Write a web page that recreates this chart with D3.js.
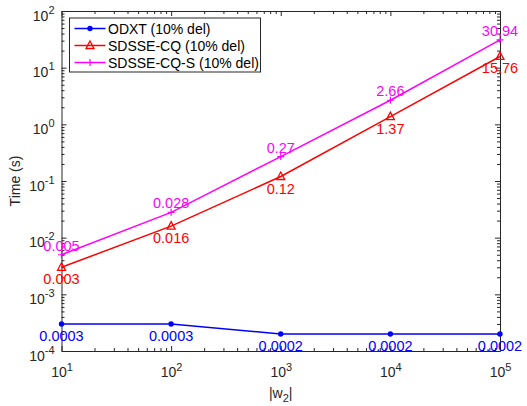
<!DOCTYPE html>
<html>
<head>
<meta charset="utf-8">
<script src="https://cdn.jsdelivr.net/npm/d3@7"></script>
<style>
  body { margin: 0; background: #fff; }
  svg text { font-family: "Liberation Sans", Arial, sans-serif; }
</style>
</head>
<body>
<svg id="chart" width="527" height="406"></svg>
<script>
// data
var wSizes = [10, 100, 1000, 10000, 100000]
var odxt = [0.0003, 0.0003, 0.0002, 0.0002, 0.0002]
var sdsseCQ = [0.003, 0.016, 0.12, 1.37, 15.76]
var sdsseCQS = [0.005, 0.028, 0.27, 2.66, 30.94]
var odxtLabels = ["0.0003", "0.0003", "0.0002", "0.0002", "0.0002"]
var cqLabels = ["0.003", "0.016", "0.12", "1.37", "15.76"]
var cqsLabels = ["0.005", "0.028", "0.27", "2.66", "30.94"]
var xTicks = [1e1, 1e2, 1e3, 1e4, 1e5]
var yTicks = [1e-4, 1e-3, 1e-2, 1e-1, 1e0, 1e1, 1e2]

var axisColor = "#262626"

var svg = d3.select("#chart"),
    margin = { top: 11, right: 27, bottom: 55, left: 61.5 },
    width = +svg.attr("width") - margin.left - margin.right,
    height = +svg.attr("height") - margin.top - margin.bottom,
    g = svg.append("g").attr("transform", "translate(" + margin.left + "," + margin.top + ")")

var x = d3.scaleLog().domain([10, 1e5]).range([0, width])
var y = d3.scaleLog().domain([1e-4, 1e2]).range([height, 0])

function minors(lo, hi) {
    var out = []
    for (var e = lo; e < hi; e++) {
        for (var m = 2; m <= 9; m++) out.push(m * Math.pow(10, e))
    }
    return out
}
var xMinor = minors(1, 5)
var yMinor = minors(-4, 2)

function exponent(d) { return Math.round(Math.log10(d)) }

function styleAxis(sel) {
    sel.select(".domain").attr("stroke", axisColor)
    sel.selectAll("line").attr("stroke", axisColor)
}

// bottom
var bottomAx = g.append("g").attr("transform", "translate(0," + height + ")")
    .call(d3.axisBottom(x).tickValues(xTicks).tickSize(-5).tickSizeOuter(0).tickFormat(""))
bottomAx.append("g").call(d3.axisBottom(x).tickValues(xMinor).tickSize(-3).tickSizeOuter(0).tickFormat(""))
    .select(".domain").remove()
bottomAx.selectAll(".tick").filter(function (d) { return xTicks.indexOf(d) >= 0 })
    .append("text")
    .attr("fill", axisColor)
    .attr("y", 26)
    .attr("text-anchor", "middle")
    .style("font-size", "14px")
    .each(function (d) {
        var t = d3.select(this)
        t.append("tspan").text("10")
        t.append("tspan").attr("dy", -6).style("font-size", "11px").text(exponent(d))
    })
styleAxis(bottomAx)

// top
var topAx = g.append("g")
    .call(d3.axisTop(x).tickValues(xTicks).tickSize(-5).tickSizeOuter(0).tickFormat(""))
topAx.append("g").call(d3.axisTop(x).tickValues(xMinor).tickSize(-3).tickSizeOuter(0).tickFormat(""))
    .select(".domain").remove()
styleAxis(topAx)

// left
var leftAx = g.append("g")
    .call(d3.axisLeft(y).tickValues(yTicks).tickSize(-5).tickSizeOuter(0).tickFormat(""))
leftAx.append("g").call(d3.axisLeft(y).tickValues(yMinor).tickSize(-3).tickSizeOuter(0).tickFormat(""))
    .select(".domain").remove()
leftAx.selectAll(".tick").filter(function (d) { return yTicks.indexOf(d) >= 0 })
    .append("text")
    .attr("fill", axisColor)
    .attr("x", -7)
    .attr("y", 9)
    .attr("text-anchor", "end")
    .style("font-size", "14px")
    .each(function (d) {
        var t = d3.select(this)
        t.append("tspan").text("10")
        t.append("tspan").attr("dy", -7).style("font-size", "11px").text(exponent(d))
    })
styleAxis(leftAx)

// right
var rightAx = g.append("g").attr("transform", "translate(" + width + ",0)")
    .call(d3.axisRight(y).tickValues(yTicks).tickSize(-5).tickSizeOuter(0).tickFormat(""))
rightAx.append("g").call(d3.axisRight(y).tickValues(yMinor).tickSize(-3).tickSizeOuter(0).tickFormat(""))
    .select(".domain").remove()
styleAxis(rightAx)

// axis titles
var xt = g.append("text")
    .attr("x", width / 2)
    .attr("y", height + 47)
    .attr("text-anchor", "middle")
    .attr("fill", axisColor)
    .style("font-size", "14px")
xt.append("tspan").text("|w")
xt.append("tspan").attr("dy", 4).style("font-size", "11px").text("2")
xt.append("tspan").attr("dy", -4).text("|")

g.append("text")
    .attr("transform", "translate(-42," + (height / 2) + ") rotate(-90)")
    .attr("text-anchor", "middle")
    .attr("fill", axisColor)
    .style("font-size", "14px")
    .text("Time (s)")

// series
var series = [
    { name: "ODXT (10% del)", values: odxt, labels: odxtLabels, color: "#0000ff", marker: "dot", dy: 17 },
    { name: "SDSSE-CQ (10% del)", values: sdsseCQ, labels: cqLabels, color: "#ff0000", marker: "tri", dy: 17 },
    { name: "SDSSE-CQ-S (10% del)", values: sdsseCQS, labels: cqsLabels, color: "#ff00ff", marker: "plus", dy: -4 }
]

var line = d3.line()
    .x(function (d) { return x(d[0]) })
    .y(function (d) { return y(d[1]) })

function drawMarker(sel, s, cx, cy) {
    if (s.marker == "dot") {
        sel.append("circle").attr("cx", cx).attr("cy", cy).attr("r", 2.7).attr("fill", s.color)
    } else if (s.marker == "tri") {
        sel.append("path")
            .attr("d", "M" + cx + "," + (cy - 4.5) + "L" + (cx + 4) + "," + (cy + 3) + "L" + (cx - 4) + "," + (cy + 3) + "Z")
            .attr("fill", "none").attr("stroke", s.color).attr("stroke-width", 1.3)
    } else {
        sel.append("path")
            .attr("d", "M" + (cx - 3.5) + "," + cy + "H" + (cx + 3.5) + "M" + cx + "," + (cy - 3.5) + "V" + (cy + 3.5))
            .attr("stroke", s.color).attr("stroke-width", 1.2)
    }
}

series.forEach(function (s) {
    var pts = wSizes.map(function (w, i) { return [w, s.values[i]] })
    g.append("path").datum(pts)
        .attr("d", line)
        .attr("fill", "none")
        .attr("stroke", s.color)
        .attr("stroke-width", 1.5)
    var mg = g.append("g")
    pts.forEach(function (p) { drawMarker(mg, s, x(p[0]), y(p[1])) })
    g.selectAll(null).data(pts).enter().append("text")
        .attr("x", function (d) { return x(d[0]) })
        .attr("y", function (d) { return y(d[1]) + s.dy })
        .attr("text-anchor", "middle")
        .attr("fill", s.color)
        .style("font-size", "14.5px")
        .text(function (d, i) { return s.labels[i] })
})

// legend
var lg = g.append("g").attr("transform", "translate(8,7)")
lg.append("rect")
    .attr("width", 191).attr("height", 54)
    .attr("fill", "#fff").attr("stroke", axisColor).attr("stroke-width", 1)
series.forEach(function (s, i) {
    var ly = 10.5 + i * 17
    lg.append("line").attr("x1", 5).attr("x2", 36).attr("y1", ly).attr("y2", ly)
        .attr("stroke", s.color).attr("stroke-width", 1.5)
    drawMarker(lg, s, 20.5, ly)
    lg.append("text").attr("x", 38.5).attr("y", ly + 5)
        .attr("fill", "#000")
        .style("font-size", "14px")
        .text(s.name)
})
</script>
</body>
</html>
